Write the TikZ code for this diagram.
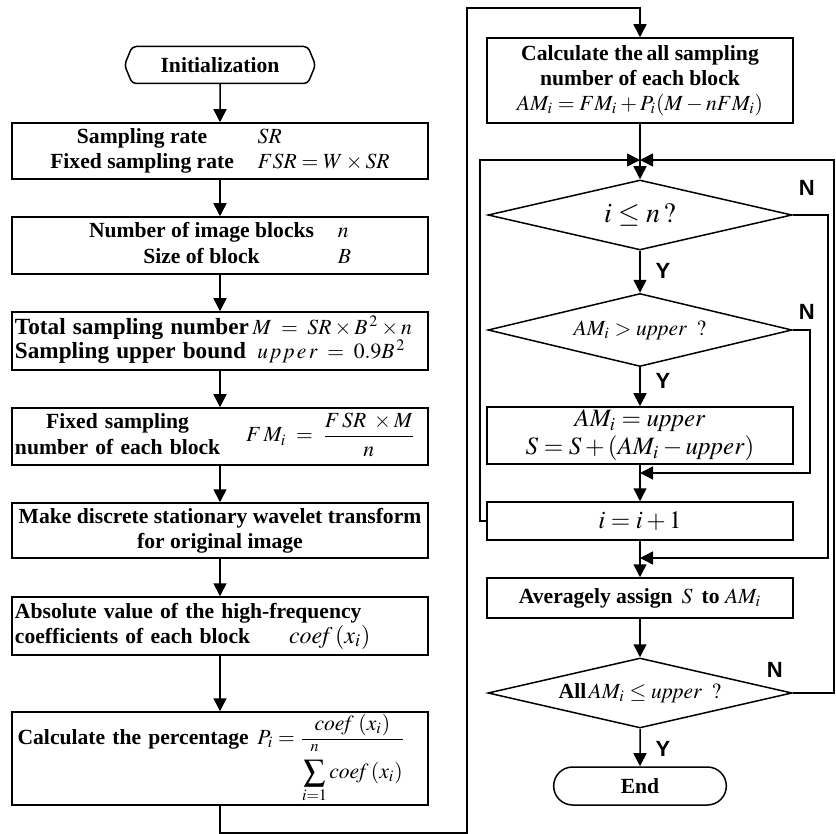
\documentclass[tikz,border=0pt]{standalone}
\usepackage{amsmath}
\usepackage{mathptmx}
\usepackage{fontspec}
\setmainfont{Liberation Serif}
\newfontfamily\arialfont{Liberation Sans}
\usetikzlibrary{arrows.meta,shapes.geometric,shapes.misc,shapes.symbols}

\begin{document}
\begin{tikzpicture}[x=0.5pt,y=-0.5pt,>={Triangle[length=6.5pt,width=6.5pt]},line width=0.75pt,
    box/.style={draw,rectangle,minimum width=208pt,inner sep=1pt,font=\fontsize{10.8}{12.6}\selectfont\bfseries},
    rbox/.style={draw,rectangle,minimum width=153pt,inner sep=1pt,font=\fontsize{10.8}{12.6}\selectfont\bfseries},
    dec/.style={draw,diamond,aspect=4,minimum width=152pt,inner sep=0pt,font=\fontsize{10.8}{12.6}\selectfont},
    lab/.style={font=\arialfont\bfseries\fontsize{11}{13}\selectfont,inner sep=0pt}]

    \useasboundingbox (0,0) rectangle (836,834);

    \node[draw,signal,signal to=west and east,signal pointer angle=135,minimum width=95.5pt,minimum height=18.5pt,rounded corners=2pt,font=\fontsize{10.8}{12.6}\selectfont\bfseries] (init) at (220,65) {Initialization};
    \node[box,minimum height=28pt] (b1) at (220,151) {\begin{tabular}{@{}c@{\hspace{1.1em}}l@{}}Sampling rate & $SR$\\ Fixed sampling rate & $FSR=W\times SR$\end{tabular}};
    \node[box,minimum height=28.5pt] (b2) at (220,245.5) {\begin{tabular}{@{}c@{\hspace{1.1em}}l@{}}Number of image blocks & $n$\\ Size of block & $B$\end{tabular}};
    \node[box,minimum height=29pt,text width=205pt,align=left] (b3) at (220,341) {\begin{tabular}{@{}l@{\,}l@{}}{\fontsize{11.6}{13}\selectfont Total sampling number} & $M\;=\;SR\times B^{\,2}\times n$\\[-1pt] {\fontsize{11.6}{13}\selectfont Sampling upper bound} & $\;\mathit{u\,p\,p\,e\,r}\;=\;0.9B^{\,2}$\end{tabular}};
    \node[box,minimum height=28.5pt,text width=205pt,align=left] (b4) at (220,436.5) {\begin{tabular}{@{}c@{}}Fixed sampling\\ number of each block\end{tabular}\hspace{1.2em}$F\,M_{i}\;=\;\dfrac{F\,SR\;\times M}{n}$};
    \node[box,minimum height=27.5pt,align=center] (b5) at (220,530.5) {Make discrete stationary wavelet transform\\ for original image};
    \node[box,minimum height=29pt,text width=205pt,align=left] (b6) at (220,626) {Absolute value of the high-frequency\\ coefficients of each block\hspace{1.8em}{\large$\mathit{coef}\,(x_{i})$}};
    \node[box,minimum height=46.5pt,inner sep=0pt,text width=206pt,align=left] (b7) at (220,758.5) {\,Calculate the percentage\hspace{0.4em}$P_{i}=\dfrac{\mathit{coef}\;(x_{i})}{\displaystyle\sum_{i=1}^{\rule[-3pt]{0pt}{0pt}n}\mathit{coef}\,(x_{i})}$};

    \node[rbox,minimum height=42.5pt,align=center] (rb1) at (640,80.5) {Calculate the\,all sampling\\ number of each block\\ {\mdseries$AM_{i}=FM_{i}+P_{i}(M-nFM_{i})$}};
    \node[dec,minimum height=35pt,font=\fontsize{14}{16}\selectfont] (d1) at (640,215) {$i\le n\,?$};
    \node[dec,minimum height=36.5pt] (d2) at (640,330) {$AM_{i}>\mathit{upper}\;\;?$};
    \node[rbox,minimum height=28.5pt,align=center,font=\fontsize{12.5}{14}\selectfont] (upd) at (640,435.5) {$AM_{i}=\mathit{upper}$\\ $S=S+(AM_{i}-\mathit{upper})$};
    \node[rbox,minimum height=19pt,font=\fontsize{12.5}{14}\selectfont] (inc) at (640,521) {$i=i+1$};
    \node[rbox,minimum height=20pt] (avg) at (640,598) {Averagely assign \,$S$\, to $AM_{i}$};
    \node[dec,minimum height=35pt] (d3) at (640,693) {\textbf{All}$\,AM_{i}\le\mathit{upper}\;\;?$};
    \node[draw,rounded rectangle,minimum width=93pt,minimum height=19pt,font=\fontsize{10.8}{12.6}\selectfont\bfseries] (end) at (640,786) {End};

    \coordinate (c1) at (467,833);
    \coordinate (c2) at (467,8);
    \coordinate (m1) at (640,160);
    \coordinate (l1) at (480,160);
    \coordinate (m2) at (640,473);
    \coordinate (r2) at (810,473);
    \coordinate (m3) at (640,558);
    \coordinate (r1) at (828,558);
    \coordinate (r3) at (834,160);

    \draw[->] (init) -- (b1);
    \draw[->] (b1) -- (b2);
    \draw[->] (b2) -- (b3);
    \draw[->] (b3) -- (b4);
    \draw[->] (b4) -- (b5);
    \draw[->] (b5) -- (b6);
    \draw[->] (b6) -- (b7);
    \draw[->] (b7.south) |- (c1) -- (c2) -| (rb1.north);

    \draw[->] (rb1) -- (d1);
    \draw[->] (d1) -- (d2);
    \draw[->] (d2) -- (upd);
    \draw[->] (upd) -- (inc);
    \draw[->] (inc) -- (avg);
    \draw[->] (avg) -- (d3);
    \draw[->] (d3) -- (end);
    \draw[->] (inc.west) -| (l1) -- (m1);
    \draw[->] (d1.east) -| (r1) -- (m3);
    \draw[->] (d2.east) -| (r2) -- (m2);
    \draw[->] (d3.east) -| (r3) -- (m1);

    \node[lab] (y1) at ([shift={(23,20)}]d1.south) {Y};
    \node[lab] (y2) at ([shift={(23,14)}]d2.south) {Y};
    \node[lab] (y3) at ([shift={(23,20)}]d3.south) {Y};
    \node[lab] (n1) at ([shift={(14,-27)}]d1.east) {N};
    \node[lab] (n2) at ([shift={(14,-18)}]d2.east) {N};
    \node[lab] (n3) at ([shift={(-18,-23)}]d3.east) {N};
\end{tikzpicture}
\end{document}
